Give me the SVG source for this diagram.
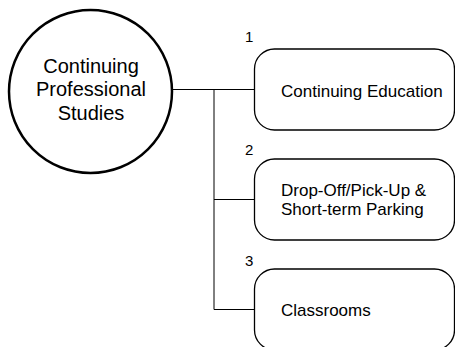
<svg xmlns="http://www.w3.org/2000/svg" width="455" height="347" viewBox="0 0 455 347">
<style>
text{font-family:"Liberation Sans",Arial,sans-serif;fill:#000}
.box{fill:#fff;stroke:#000;stroke-width:1.3}
.lbl{font-size:17px}
.num{font-size:15px}
.conn{fill:none;stroke:#000;stroke-width:1}
</style>
<rect width="455" height="347" fill="#fff"/>
<g id="connectors">
<path class="conn" d="M172 89.5H254.5M214 89.5V309.5M214 199.5H254.5M214 309.5H254.5"/>
</g>
<g id="root">
<circle cx="90.5" cy="91.5" r="81.5" fill="#fff" stroke="#000" stroke-width="2.5"/>
<text x="91" y="72.5" font-size="20" text-anchor="middle">Continuing</text>
<text x="91" y="96" font-size="20" text-anchor="middle">Professional</text>
<text x="91" y="119.5" font-size="20" text-anchor="middle">Studies</text>
</g>
<g id="n1">
<rect class="box" x="254.5" y="49" width="200" height="81" rx="20"/>
<text class="num" x="245" y="42">1</text>
<text class="lbl" x="281" y="97">Continuing Education</text>
</g>
<g id="n2">
<rect class="box" x="254.5" y="159" width="200" height="81" rx="20"/>
<text class="num" x="245" y="155">2</text>
<text class="lbl" x="281" y="196">Drop-Off/Pick-Up &amp;</text>
<text class="lbl" x="281" y="215">Short-term Parking</text>
</g>
<g id="n3">
<rect class="box" x="254.5" y="269" width="200" height="81" rx="20"/>
<text class="num" x="245" y="266">3</text>
<text class="lbl" x="281" y="316">Classrooms</text>
</g>
</svg>
